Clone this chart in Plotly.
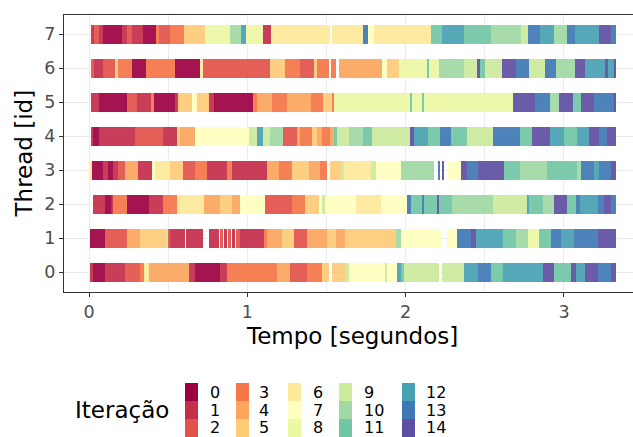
import plotly.graph_objects as go

# ---------------- data (start s, end s, iteration) per thread ----------------
thread0 = [(0.006,0.027,1),(0.027,0.101,0),(0.101,0.143,1),(0.143,0.228,1),(0.228,0.323,2),
           (0.323,0.35,3),(0.35,0.376,6),(0.376,0.629,4),(0.629,0.671,1),(0.671,0.829,0),(0.829,0.871,1),
           (0.871,1.188,3),(1.188,1.272,4),(1.272,1.378,2),(1.378,1.473,3),(1.473,1.515,5),
           (1.536,1.62,5),(1.62,1.641,9),(1.641,1.873,7),(1.873,1.884,9),(1.884,1.947,7),
           (1.947,1.968,12),(1.968,1.989,11),(1.989,2.211,9),(2.232,2.369,9),(2.369,2.454,12),
           (2.454,2.538,13),(2.538,2.612,11),(2.612,2.865,12),(2.865,2.935,14),(2.935,3.044,11),
           (3.044,3.076,14),(3.076,3.133,12),(3.133,3.213,14),(3.213,3.297,13),(3.297,3.329,14)]
thread1 = [(0.006,0.101,0),(0.101,0.238,2),(0.238,0.323,4),(0.323,0.492,5),(0.492,0.502,9),
           (0.502,0.513,2),(0.513,0.608,1),(0.614,0.719,1),(0.755,0.804,1),(0.804,0.82,1),
           (0.83,0.845,2),(0.855,0.87,1),(0.88,0.895,2),(0.905,0.92,1),(0.93,0.956,2),
           (0.956,1.103,1),(1.103,1.125,3),(1.125,1.219,4),(1.219,1.293,5),(1.293,1.378,2),
           (1.378,1.504,4),(1.504,1.557,5),(1.557,1.62,4),(1.62,1.937,5),(1.937,1.968,10),
           (1.968,2.222,7),(2.264,2.327,7),(2.327,2.411,13),(2.411,2.443,14),(2.443,2.612,12),
           (2.612,2.696,11),(2.696,2.77,10),(2.77,2.844,8),(2.844,2.918,11),(2.918,2.981,13),
           (2.981,3.065,12),(3.065,3.213,13),(3.213,3.329,14)]
thread2 = [(0.027,0.10,1),(0.10,0.143,0),(0.143,0.154,1),(0.154,0.238,3),(0.238,0.376,0),
           (0.376,0.47,1),(0.47,0.555,3),(0.555,0.724,6),(0.724,0.829,4),(0.829,0.903,5),
           (0.903,0.956,4),(0.956,1.114,7),(1.114,1.283,2),(1.283,1.367,3),(1.367,1.451,5),
           (1.451,1.47,7),(1.47,1.49,9),(1.49,1.684,7),(1.684,1.842,6),(1.842,2.011,7),
           (2.011,2.032,13),(2.032,2.105,11),(2.105,2.116,13),(2.116,2.20,11),(2.20,2.211,14),
           (2.211,2.295,11),(2.295,2.549,10),(2.549,2.77,9),(2.77,2.781,12),(2.781,2.865,11),
           (2.865,2.939,10),(2.939,3.019,14),(3.019,3.076,11),(3.076,3.103,13),(3.103,3.213,12),
           (3.213,3.255,13),(3.255,3.297,14),(3.297,3.329,13)]
thread3 = [(0.01,0.02,6),(0.02,0.09,0),(0.09,0.12,1),(0.12,0.15,0),(0.15,0.186,1),
           (0.186,0.228,2),(0.228,0.312,4),(0.312,0.397,1),(0.397,0.418,7),(0.418,0.513,6),
           (0.513,0.593,5),(0.593,0.671,2),(0.671,0.745,3),(0.745,0.871,1),(0.871,0.903,3),
           (0.903,1.125,1),(1.125,1.198,4),(1.198,1.283,3),(1.283,1.388,5),(1.388,1.462,4),
           (1.462,1.504,3),(1.521,1.59,5),(1.59,1.61,9),(1.61,1.78,6),(1.78,1.81,9),
           (1.81,1.97,7),(1.97,2.18,10),(2.21,2.22,13),(2.23,2.24,14),(2.27,2.35,7),
           (2.35,2.39,14),(2.39,2.46,13),(2.46,2.62,14),(2.62,2.72,11),(2.72,2.89,10),
           (2.89,3.08,11),(3.08,3.11,10),(3.11,3.19,13),(3.19,3.22,12),(3.22,3.30,13),(3.30,3.33,14)]
thread4 = [(0.01,0.023,1),(0.023,0.065,0),(0.065,0.29,1),(0.29,0.47,2),(0.47,0.555,1),
           (0.555,0.576,5),(0.576,0.67,4),(0.67,1.008,7),(1.008,1.06,9),(1.06,1.10,12),
           (1.10,1.146,9),(1.146,1.226,10),(1.226,1.314,2),(1.314,1.335,4),(1.335,1.41,3),
           (1.41,1.44,5),(1.44,1.473,4),(1.473,1.525,3),(1.525,1.55,4),(1.55,1.565,11),
           (1.565,1.64,9),(1.64,1.73,10),(1.73,1.79,11),(1.79,2.03,9),(2.03,2.05,14),
           (2.05,2.14,12),(2.14,2.22,11),(2.22,2.285,13),(2.285,2.39,11),(2.39,2.55,9),
           (2.55,2.72,13),(2.72,2.80,11),(2.80,2.91,14),(2.91,3.00,12),(3.00,3.08,11),
           (3.08,3.16,12),(3.16,3.22,14),(3.22,3.27,13),(3.27,3.33,14)]
thread5 = [(0.01,0.065,1),(0.065,0.24,0),(0.24,0.30,2),(0.30,0.39,1),(0.39,0.41,3),
           (0.41,0.54,0),(0.54,0.565,1),(0.565,0.65,5),(0.65,0.68,7),(0.68,0.755,5),
           (0.755,0.79,1),(0.79,1.036,0),(1.036,1.06,3),(1.06,1.156,4),(1.156,1.25,3),
           (1.25,1.40,4),(1.40,1.48,3),(1.48,1.535,5),(1.535,1.545,3),(1.545,2.03,8),
           (2.03,2.04,11),(2.04,2.105,8),(2.105,2.115,11),(2.115,2.675,8),(2.675,2.82,14),
           (2.82,2.91,13),(2.91,2.97,10),(2.97,3.055,14),(3.055,3.11,11),(3.11,3.19,14),
           (3.19,3.32,13),(3.32,3.33,14)]
thread6 = [(0.01,0.03,2),(0.03,0.09,1),(0.09,0.165,2),(0.165,0.18,5),(0.18,0.27,3),
           (0.27,0.36,0),(0.36,0.54,3),(0.54,0.70,0),(0.70,0.72,6),(0.72,1.14,2),
           (1.14,1.24,5),(1.24,1.33,3),(1.33,1.42,2),(1.42,1.44,5),(1.44,1.515,3),
           (1.53,1.56,3),(1.58,1.85,4),(1.85,1.88,7),(1.88,1.96,5),(1.96,2.14,8),
           (2.14,2.15,11),(2.15,2.21,8),(2.21,2.37,10),(2.37,2.45,9),(2.45,2.47,14),
           (2.47,2.50,11),(2.50,2.61,9),(2.61,2.70,14),(2.70,2.78,13),(2.78,2.88,9),
           (2.88,2.95,13),(2.95,3.07,10),(3.07,3.13,14),(3.13,3.26,12),(3.26,3.28,14),
           (3.28,3.32,12),(3.32,3.33,14)]
thread7 = [(0.01,0.03,1),(0.03,0.06,2),(0.06,0.09,1),(0.09,0.21,0),(0.21,0.24,1),
           (0.24,0.27,2),(0.27,0.34,1),(0.34,0.42,0),(0.42,0.44,3),(0.44,0.51,2),
           (0.51,0.60,3),(0.60,0.73,5),(0.73,0.89,8),(0.89,0.96,10),(0.96,0.99,12),
           (0.99,1.10,8),(1.10,1.15,1),(1.15,1.525,6),(1.535,1.73,6),(1.73,1.76,13),
           (1.76,1.80,7),(1.80,2.16,6),(2.16,2.23,11),(2.23,2.37,12),(2.37,2.54,11),
           (2.54,2.73,10),(2.73,2.77,9),(2.77,2.85,13),(2.85,2.94,12),(2.94,3.02,10),
           (3.02,3.07,13),(3.07,3.22,12),(3.22,3.30,14),(3.30,3.33,13)]
threads = [thread0, thread1, thread2, thread3, thread4, thread5, thread6, thread7]

iterations = list(range(15))
iter_colors = ["#9E0142", "#C52D4B", "#E2524A", "#F57647", "#FCA55D", "#FECB79", "#FEE99A",
               "#FFFFBF", "#EDF8A3", "#CDEB9D", "#A1D9A4", "#70C6A5", "#48A1B3", "#3F78B5", "#5E4FA2"]
x_ticks = [0, 1, 2, 3]
y_ticks = list(range(8))

# ---------------- layout constants (pixels) ----------------
W, H = 633, 437
L, R, T, B = 64, 0, 15, 145
PW, PH = W - L - R, H - T - B
FONT = "DejaVu Sans"

def px(xp):
    return (xp - L) / PW

def py(yp):
    return (T + PH - yp) / PH

fig = go.Figure()
for it in iterations:
    ys, bases, lens = [], [], []
    for tid, segs in enumerate(threads):
        for s, e, k in segs:
            if k == it:
                ys.append(tid)
                bases.append(s)
                lens.append(e - s)
    fig.add_trace(go.Bar(
        y=ys, x=lens, base=bases, orientation="h", width=0.57,
        marker=dict(color=iter_colors[it], line=dict(width=0)),
        opacity=0.92, showlegend=False, hoverinfo="skip"))

shapes, annotations = [], []
# manual legend: 5 columns x 3 rows, column-major
key_x = [185, 236, 288, 339, 402]
lab_x = [209, 258, 312, 363, 425]
row_top = [383, 401, 419]
row_mid = [392, 410, 428]
for it in iterations:
    c, r = divmod(it, 3)
    shapes.append(dict(type="rect", xref="paper", yref="paper",
                       x0=px(key_x[c]), x1=px(key_x[c] + 13),
                       y0=py(row_top[r] + 18), y1=py(row_top[r]),
                       fillcolor=iter_colors[it], line=dict(width=0), layer="above"))
    annotations.append(dict(text=str(it), xref="paper", yref="paper",
                            x=px(lab_x[c]), y=py(row_mid[r]),
                            xanchor="left", yanchor="middle", showarrow=False,
                            borderpad=0,
                            font=dict(family=FONT, size=16, color="#000000")))
annotations.append(dict(text="Iteração", xref="paper", yref="paper", x=px(73), y=py(410),
                        xanchor="left", yanchor="middle", showarrow=False,
                        font=dict(family=FONT, size=23, color="#000000")))
annotations.append(dict(text="Tempo [segundos]", xref="paper", yref="paper", x=px(352.5), y=py(336),
                        xanchor="center", yanchor="middle", showarrow=False,
                        font=dict(family=FONT, size=23, color="#000000")))
annotations.append(dict(text="Thread [id]", xref="paper", yref="paper", x=px(23), y=py(153.5),
                        xanchor="center", yanchor="middle", textangle=-90, showarrow=False,
                        font=dict(family=FONT, size=23, color="#000000")))

fig.update_layout(
    width=W, height=H, margin=dict(l=L, r=R, t=T, b=B, autoexpand=False),
    plot_bgcolor="white", paper_bgcolor="white", barmode="overlay", bargap=0,
    shapes=shapes, annotations=annotations,
    font=dict(family=FONT),
    xaxis=dict(range=[-0.158, 3.436], tickvals=x_ticks, ticktext=[str(v) for v in x_ticks],
               showgrid=True, gridcolor="#EBEBEB", gridwidth=1.1,
               minor=dict(tickvals=[0.5, 1.5, 2.5], showgrid=True, gridcolor="#EBEBEB", gridwidth=0.55, ticks=""),
               ticks="outside", ticklen=4, tickwidth=1.1, tickcolor="#333333",
               tickfont=dict(family=FONT, size=17.5, color="#4D4D4D"),
               showline=True, linecolor="#333333", linewidth=1.1, mirror=True, zeroline=False),
    yaxis=dict(range=[-0.58, 7.57], tickvals=y_ticks, ticktext=[str(v) for v in y_ticks],
               showgrid=True, gridcolor="#EBEBEB", gridwidth=1.1,
               ticks="outside", ticklen=4, tickwidth=1.1, tickcolor="#333333",
               tickfont=dict(family=FONT, size=17.5, color="#4D4D4D"),
               showline=True, linecolor="#333333", linewidth=1.1, zeroline=False),
)

fig.write_html("out.html", config={"displayModeBar": False},
               post_script="document.body.style.margin='0';document.body.style.overflow='hidden';")
